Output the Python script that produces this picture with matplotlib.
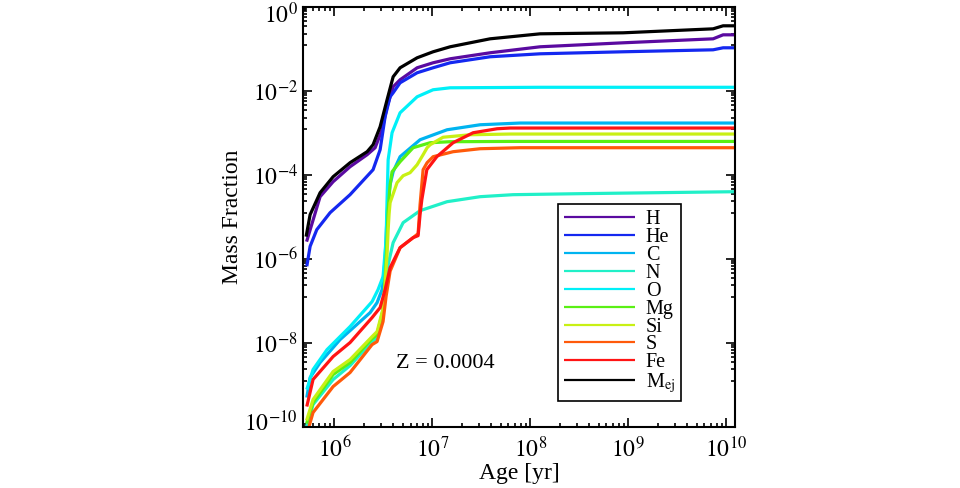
import numpy as np
import matplotlib
matplotlib.use("Agg")
import matplotlib.pyplot as plt
import matplotlib.transforms as mtransforms
from matplotlib.ticker import FixedLocator, NullFormatter

plt.rcParams["font.family"] = ["Liberation Serif", "DejaVu Serif"]
plt.rcParams["mathtext.fontset"] = "stix"

# values: log10(age / yr) and log10(mass fraction)
H_LOG_AGE = [5.716, 5.854, 5.987, 6.160, 6.334, 6.416, 6.487, 6.538, 6.600, 6.671,
             6.845, 7.008, 7.182, 7.590, 8.101, 8.949, 9.868, 9.970, 10.093]
H_LOG_FRAC = [-5.595, -4.524, -4.167, -3.810, -3.524, -3.357, -2.929, -2.381, -1.905, -1.738,
              -1.452, -1.333, -1.238, -1.095, -0.952, -0.857, -0.762, -0.667, -0.667]

HE_LOG_AGE = [5.718, 5.752, 5.820, 5.956, 6.160, 6.395, 6.467, 6.518, 6.569, 6.600,
              6.671, 6.845, 7.008, 7.182, 7.590, 8.101, 8.949, 9.868, 9.970, 10.093]
HE_LOG_FRAC = [-6.183, -5.707, -5.310, -4.905, -4.476, -3.881, -3.405, -2.619, -2.143, -2.048,
               -1.810, -1.571, -1.452, -1.333, -1.190, -1.119, -1.071, -1.024, -0.976, -0.976]

C_LOG_AGE = [5.718, 5.752, 5.854, 6.058, 6.365, 6.436, 6.487, 6.518, 6.538, 6.549,
             6.569, 6.600, 6.671, 6.875, 7.151, 7.488, 7.897, 10.093]
C_LOG_FRAC = [-9.310, -8.833, -8.476, -7.929, -7.286, -7.048, -6.738, -6.024, -4.952, -4.595,
              -4.238, -3.929, -3.571, -3.167, -2.929, -2.810, -2.769, -2.769]

N_LOG_AGE = [5.716, 5.782, 5.987, 6.160, 6.385, 6.426, 6.497, 6.528, 6.549, 6.600,
             6.702, 6.875, 7.151, 7.488, 7.825, 8.510, 10.093]
N_LOG_FRAC = [-10.000, -9.476, -8.881, -8.548, -7.976, -7.905, -7.214, -6.643, -6.143, -5.619,
              -5.143, -4.857, -4.643, -4.524, -4.476, -4.452, -4.405]

O_LOG_AGE = [5.718, 5.782, 5.925, 6.160, 6.385, 6.446, 6.497, 6.528, 6.538, 6.549,
             6.589, 6.671, 6.845, 7.008, 7.182, 8.101, 10.093]
O_LOG_FRAC = [-9.119, -8.643, -8.167, -7.619, -7.024, -6.738, -6.429, -5.548, -4.595, -3.643,
              -3.000, -2.524, -2.143, -1.976, -1.929, -1.917, -1.917]

MG_LOG_AGE = [5.716, 5.782, 5.987, 6.160, 6.385, 6.436, 6.497, 6.518, 6.538, 6.549,
              6.569, 6.589, 6.671, 6.804, 6.978, 7.182, 7.795, 10.093]
MG_LOG_FRAC = [-9.930, -9.429, -8.762, -8.476, -7.905, -7.810, -7.240, -6.500, -5.550, -4.830,
               -4.238, -3.930, -3.690, -3.357, -3.238, -3.214, -3.207, -3.207]

SI_LOG_AGE = [5.716, 5.782, 5.987, 6.160, 6.385, 6.436, 6.497, 6.518, 6.538, 6.549,
              6.559, 6.569, 6.640, 6.702, 6.773, 6.845, 6.906, 6.947, 6.978, 7.110,
              7.386, 7.795, 10.093]
SI_LOG_FRAC = [-9.857, -9.357, -8.690, -8.405, -7.857, -7.738, -7.190, -6.600, -5.900, -5.310,
               -4.930, -4.667, -4.190, -4.024, -3.952, -3.762, -3.524, -3.357, -3.286, -3.107,
               -3.048, -3.031, -3.031]

S_LOG_AGE = [5.726, 5.782, 5.987, 6.160, 6.385, 6.436, 6.497, 6.528, 6.569, 6.671,
             6.804, 6.855, 6.875, 6.906, 6.947, 7.008, 7.212, 7.488, 7.897, 10.093]
S_LOG_FRAC = [-10.120, -9.667, -9.048, -8.714, -8.048, -7.976, -7.500, -6.900, -6.300, -5.740,
              -5.500, -5.405, -4.714, -3.881, -3.714, -3.571, -3.452, -3.381, -3.357, -3.357]

FE_LOG_AGE = [5.718, 5.782, 5.987, 6.160, 6.385, 6.467, 6.518, 6.569, 6.671, 6.804,
              6.855, 6.875, 6.893, 6.944, 7.046, 7.212, 7.417, 7.662, 7.795, 10.093]
FE_LOG_FRAC = [-9.524, -8.880, -8.333, -8.000, -7.405, -7.167, -6.738, -6.214, -5.738, -5.500,
               -5.452, -4.952, -4.595, -3.881, -3.571, -3.238, -3.000, -2.905, -2.888, -2.888]

MEJ_LOG_AGE = [5.711, 5.752, 5.854, 5.987, 6.160, 6.334, 6.395, 6.467, 6.538, 6.600,
               6.671, 6.845, 7.008, 7.182, 7.590, 8.101, 8.510, 8.949, 9.868, 9.970, 10.093]
MEJ_LOG_FRAC = [-5.476, -4.952, -4.429, -4.048, -3.714, -3.452, -3.286, -2.857, -2.214, -1.667,
                -1.452, -1.214, -1.071, -0.952, -0.762, -0.643, -0.631, -0.619, -0.524, -0.452, -0.452]

LABELS = ["H", "He", "C", "N", "O", "Mg", "Si", "S", "Fe", r"M$_{\rm ej}$"]
COLORS = ["#5a0aa0", "#1428f0", "#00b4f0", "#20f0c8", "#00f0f8",
          "#5af014", "#c8f014", "#ff5a0a", "#ff1414", "#000000"]

SERIES = [
    (H_LOG_AGE, H_LOG_FRAC),
    (HE_LOG_AGE, HE_LOG_FRAC),
    (C_LOG_AGE, C_LOG_FRAC),
    (N_LOG_AGE, N_LOG_FRAC),
    (O_LOG_AGE, O_LOG_FRAC),
    (MG_LOG_AGE, MG_LOG_FRAC),
    (SI_LOG_AGE, SI_LOG_FRAC),
    (S_LOG_AGE, S_LOG_FRAC),
    (FE_LOG_AGE, FE_LOG_FRAC),
    (MEJ_LOG_AGE, MEJ_LOG_FRAC),
]

X_MIN, X_MAX = 4.82e5, 1.245e10
Y_MIN, Y_MAX = 1e-10, 1.0


def style_axes(ax):
    ax.set_xscale("log")
    ax.set_yscale("log")
    ax.set_xlim(X_MIN, X_MAX)
    ax.set_ylim(Y_MIN, Y_MAX)

    ax.xaxis.set_major_locator(FixedLocator([1e6, 1e7, 1e8, 1e9, 1e10]))
    ax.set_xticklabels([r"$10^{6}$", r"$10^{7}$", r"$10^{8}$", r"$10^{9}$", r"$10^{10}$"])

    y_major = [1e-10, 1e-8, 1e-6, 1e-4, 1e-2, 1e0]
    ax.yaxis.set_major_locator(FixedLocator(y_major))
    ax.set_yticklabels([r"$10^{-10}$", r"$10^{-8}$", r"$10^{-6}$",
                        r"$10^{-4}$", r"$10^{-2}$", r"$10^{0}$"])

    # grace-style minor ticks: linear steps between majors two decades apart
    y_minor = [base * (1 + 11 * k) for base in y_major[:-1] for k in range(1, 9)]
    ax.yaxis.set_minor_locator(FixedLocator(y_minor))
    ax.yaxis.set_minor_formatter(NullFormatter())
    ax.xaxis.set_minor_formatter(NullFormatter())

    ax.tick_params(which="both", direction="in", top=True, right=True, width=1.2)
    ax.tick_params(which="major", length=6.5, labelsize=17)
    ax.tick_params(which="minor", length=3.2)
    ax.tick_params(axis="x", which="major", pad=7)
    ax.tick_params(axis="y", which="major", pad=4)

    # keep the end labels inside the figure, as grace does
    labels = ax.get_yticklabels()
    fig = ax.figure
    labels[0].set_transform(labels[0].get_transform()
                            + mtransforms.ScaledTranslation(0, 6 / 100, fig.dpi_scale_trans))
    labels[-1].set_transform(labels[-1].get_transform()
                             + mtransforms.ScaledTranslation(0, -6 / 100, fig.dpi_scale_trans))

    for spine in ax.spines.values():
        spine.set_linewidth(1.5)


def main():
    fig = plt.figure(figsize=(9.6, 4.88), dpi=100)
    ax = fig.add_axes([0.316, 0.126, 0.450, 0.860])

    for (log_age, log_frac), color, label in zip(SERIES, COLORS, LABELS):
        ax.plot(10 ** np.array(log_age), 10 ** np.array(log_frac),
                color=color, linewidth=2.3, label=label, solid_capstyle="butt")

    style_axes(ax)

    ax.set_xlabel("Age [yr]", fontsize=17, labelpad=1)
    ax.set_ylabel("Mass Fraction", fontsize=17, labelpad=1)

    ax.text(0.328, 0.149, "Z = 0.0004", transform=ax.transAxes,
            fontsize=16, ha="center", va="center")

    leg = ax.legend(loc="upper left", bbox_to_anchor=(0.59, 0.53),
                    fontsize=14.5, frameon=True, fancybox=False, framealpha=1,
                    edgecolor="black", borderaxespad=0, borderpad=0.3,
                    labelspacing=-0.06, handlelength=3.5, handletextpad=0.55)
    leg.get_frame().set_linewidth(1.2)
    for line in leg.get_lines():
        line.set_linewidth(1.6)

    fig.savefig("out.png", dpi=100)
    plt.close(fig)


if __name__ == "__main__":
    main()
